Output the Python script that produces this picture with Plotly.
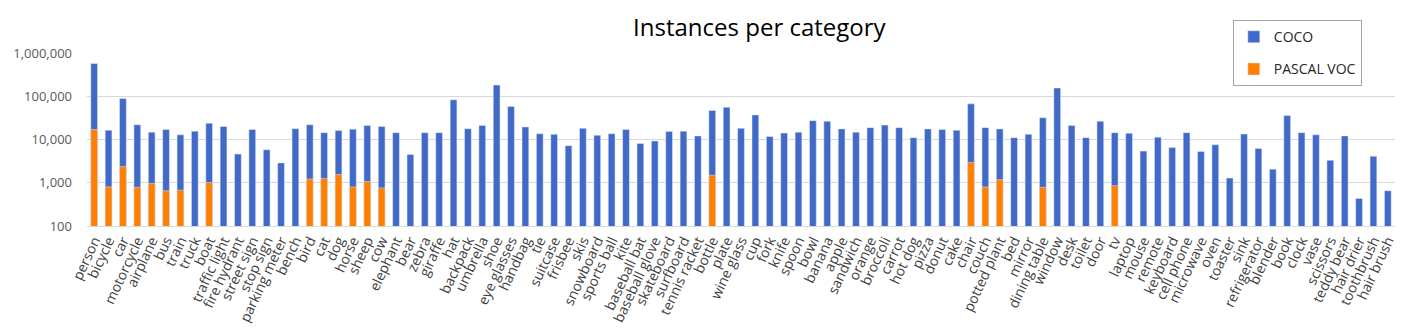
import plotly.graph_objects as go

categories = [
    "person", "bicycle", "car", "motorcycle", "airplane", "bus", "train", "truck", "boat",
    "traffic light", "fire hydrant", "street sign", "stop sign", "parking meter", "bench",
    "bird", "cat", "dog", "horse", "sheep", "cow", "elephant", "bear", "zebra", "giraffe",
    "hat", "backpack", "umbrella", "shoe", "eye glasses", "handbag", "tie", "suitcase",
    "frisbee", "skis", "snowboard", "sports ball", "kite", "baseball bat", "baseball glove",
    "skateboard", "surfboard", "tennis racket", "bottle", "plate", "wine glass", "cup",
    "fork", "knife", "spoon", "bowl", "banana", "apple", "sandwich", "orange", "broccoli",
    "carrot", "hot dog", "pizza", "donut", "cake", "chair", "couch", "potted plant", "bed",
    "mirror", "dining table", "window", "desk", "toilet", "door", "tv", "laptop", "mouse",
    "remote", "keyboard", "cell phone", "microwave", "oven", "toaster", "sink",
    "refrigerator", "blender", "book", "clock", "vase", "scissors", "teddy bear",
    "hair drier", "toothbrush", "hair brush",
]

# instances per category
coco = [
    571000, 16400, 89000, 21900, 14800, 17000, 12800, 15600, 23800,
    20100, 4600, 17000, 5800, 2880, 17800,
    21900, 14400, 16200, 17300, 21200, 20100, 14400, 4470, 14400, 14400,
    83000, 17800, 21200, 181000, 58300, 19500, 13600, 13200,
    7200, 18200, 12500, 13600, 17000, 8070, 9250,
    15400, 15600, 12100, 46900, 55500, 18200, 36900,
    11700, 14100, 14800, 27300, 26400, 17600, 14800, 18800, 21500,
    18800, 11000, 17600, 17000, 16400, 66800, 18800, 17600, 11000,
    13200, 31800, 155000, 21200, 11000, 26400, 14400, 13900, 5390,
    11300, 6490, 14400, 5300, 7550, 1280, 13400,
    6170, 2060, 35700, 14400, 12800, 3300, 12100,
    434, 4100, 652,
]

voc = {
    "person": 17000, "bicycle": 800, "car": 2390, "motorcycle": 785, "airplane": 960,
    "bus": 652, "train": 675, "boat": 1010, "bird": 1220, "cat": 1260, "dog": 1550,
    "horse": 800, "sheep": 1065, "cow": 760, "bottle": 1490, "chair": 2930,
    "couch": 800, "potted plant": 1180, "dining table": 785, "tv": 855,
}
voc_cats = list(voc.keys())
voc_vals = list(voc.values())

FONT = "Open Sans, Liberation Sans, sans-serif"

fig = go.Figure()
fig.add_trace(go.Bar(x=categories, y=coco, name="COCO", marker_color="#4169C8",
                     legendgroup="a"))
fig.add_trace(go.Bar(x=voc_cats, y=voc_vals, name="PASCAL VOC", marker_color="#FF7F00",
                     legendgroup="b"))

# page body has an 8px margin, so the figure is shrunk and shifted by that much
fig.update_layout(
    width=1415, height=323,
    margin=dict(l=79, r=28, t=36, b=105),
    barmode="overlay", bargap=0.53,
    plot_bgcolor="white", paper_bgcolor="white",
    font=dict(family=FONT, color="#404040"),
    title=dict(text="Instances per category", x=0.531, xanchor="center", y=0.94,
               yanchor="middle", font=dict(size=24, color="#000000", family=FONT)),
    legend=dict(x=0.876, y=1.19, xanchor="left", yanchor="top",
                bordercolor="#a6a6a6", borderwidth=1, bgcolor="white",
                font=dict(size=14, color="#262626"), traceorder="grouped",
                tracegroupgap=11),
    showlegend=True,
)
fig.update_xaxes(
    type="category", categoryorder="array", categoryarray=categories,
    tickmode="array", tickvals=categories, ticktext=categories,
    tickangle=-65, tickfont=dict(size=14, color="#404040"),
    showgrid=False, showline=True, linecolor="#d9d9d9", linewidth=1,
    automargin=False, range=[-0.5, len(categories) - 0.5],
)
fig.update_yaxes(
    type="log", range=[2, 6], tickvals=[100, 1000, 10000, 100000, 1000000],
    ticktext=["100", "1,000", "10,000", "100,000", "1,000,000"],
    tickfont=dict(size=13, color="#595959"), ticklabelstandoff=14,
    showgrid=True, gridcolor="#d9d9d9", gridwidth=1, zeroline=False,
    automargin=False,
)

fig.write_html("out.html")
